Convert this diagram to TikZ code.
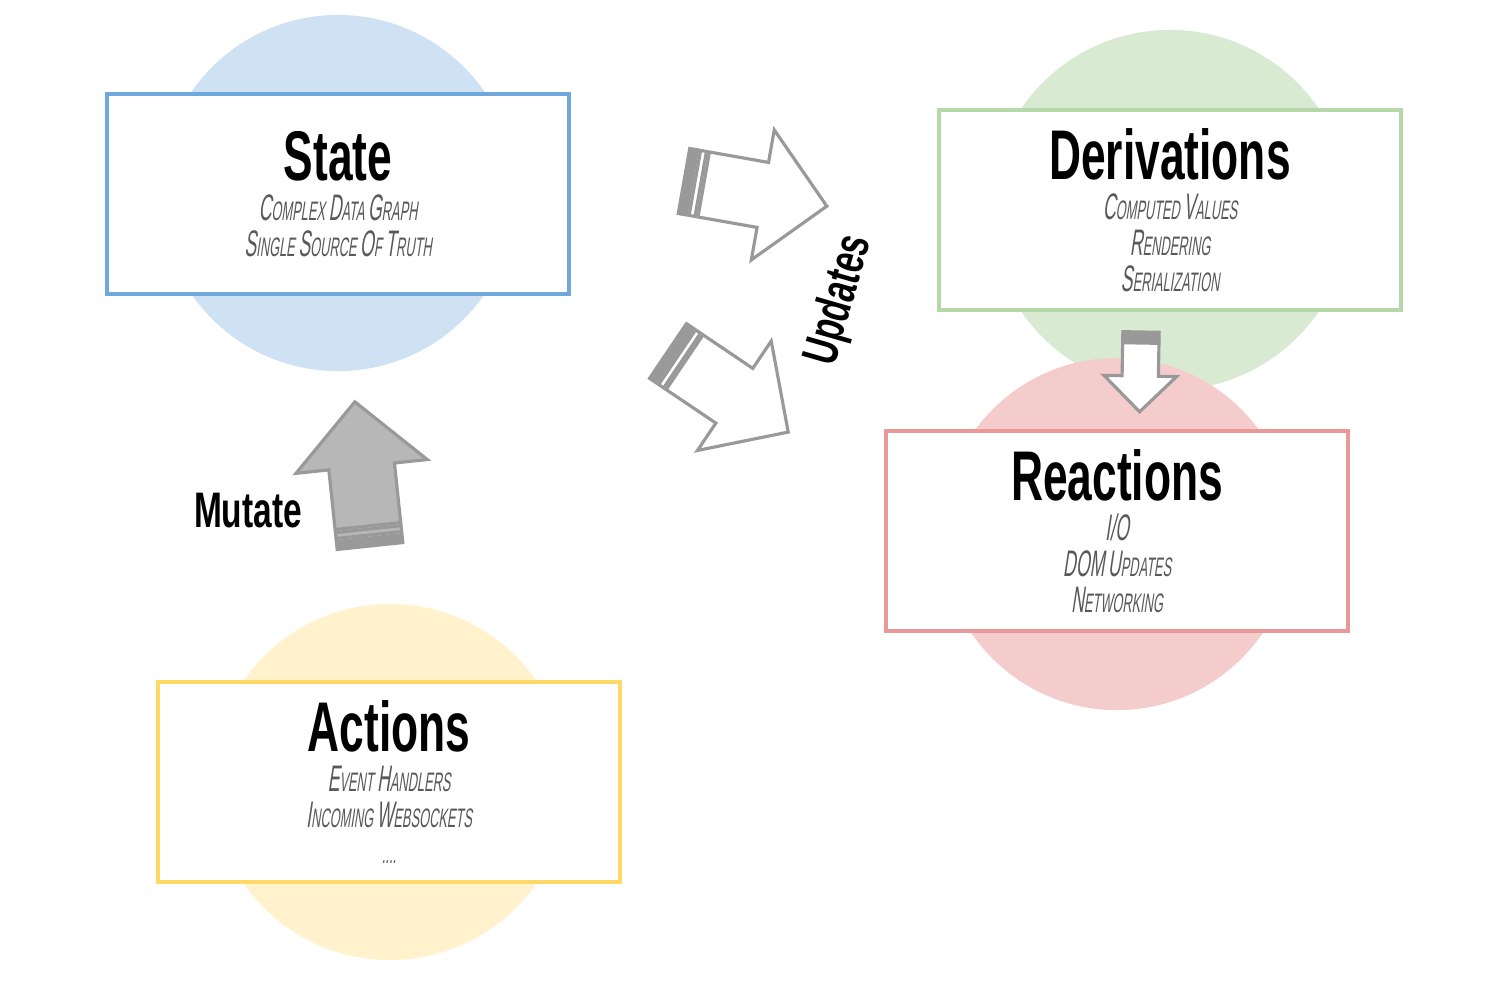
\documentclass[tikz,border=0pt]{standalone}
\usepackage{fontspec}
\newfontfamily\headfont[FakeStretch=0.67]{Liberation Sans Bold}
\newfontfamily\titlefont[FakeStretch=0.63]{Liberation Sans Bold}
\newfontfamily\notefont[FakeStretch=0.48,FakeSlant=0.15]{Liberation Sans}
\newcommand\scw[2]{{\fontsize{10.5}{10.24}\selectfont #1}#2}
\newcommand\headline[1]{{\color{black}\titlefont\fontsize{20}{24}\selectfont #1}}

\definecolor{statefill}{HTML}{CFE2F3}
\definecolor{stateline}{HTML}{6FA8DC}
\definecolor{derivfill}{HTML}{D9EAD3}
\definecolor{derivline}{HTML}{B6D7A8}
\definecolor{reactfill}{HTML}{F4CCCC}
\definecolor{reactline}{HTML}{EA9999}
\definecolor{actfill}{HTML}{FFF2CC}
\definecolor{actline}{HTML}{FFD966}
\definecolor{arrowgray}{HTML}{999999}
\definecolor{arrowfill}{HTML}{B7B7B7}

\tikzstyle{blob}=[circle,inner sep=0,minimum size=3.56cm]
\tikzstyle{box}=[rectangle,draw,line width=1.2pt,fill=white,minimum width=4.62cm,minimum height=2cm,inner sep=0,align=center,
  font=\notefont\fontsize{7.6}{10.24}\selectfont,text=black!65]
\tikzstyle{bigword}=[font=\headfont\fontsize{14.2}{16}\selectfont,inner sep=0]

\tikzset{
  blockarrow/.pic={
    \filldraw[draw=arrowgray,fill=arrowgray,line width=0.9pt] (0,-33) rectangle (8,33);
    \draw[draw=arrowgray,line width=0.9pt,pic actions] (11,-33) rectangle (17,33);
    \draw[draw=arrowgray,line width=0.9pt,line join=miter,pic actions]
      (20,-33) -- (80,-33) -- (80,-66) -- (145,0) -- (80,66) -- (80,33) -- (20,33) -- cycle;
  }
}

\begin{document}
\begin{tikzpicture}[x=0.01cm,y=-0.01cm]
  \useasboundingbox (0,0) rectangle (1488,981);

  \node[blob,fill=statefill] (statec) at (338,193) {};
  \node[blob,fill=derivfill,minimum size=3.6cm] (derivc) at (1170,210) {};
  \node[blob,fill=reactfill,minimum size=3.52cm] (reactc) at (1117,534) {};
  \node[blob,fill=actfill] (actc) at (390,782) {};

  \node[box,draw=stateline] (state) at (338,194) {\headline{State}\\[1.2pt]
    \scw{C}{OMPLEX} \scw{D}{ATA} \scw{G}{RAPH}\\
    \scw{S}{INGLE} \scw{S}{OURCE} \scw{O}{F} \scw{T}{RUTH}};
  \node[box,draw=derivline] (deriv) at (1170,210) {\headline{Derivations}\\[1.2pt]
    \scw{C}{OMPUTED} \scw{V}{ALUES}\\
    \scw{R}{ENDERING}\\
    \scw{S}{ERIALIZATION}};
  \node[box,draw=reactline] (react) at (1117,531) {\headline{Reactions}\\[1.2pt]
    \scw{I/O}{}\\
    \scw{DOM}{} \scw{U}{PDATES}\\
    \scw{N}{ETWORKING}};
  \node[box,draw=actline] (act) at (389,782) {\headline{Actions}\\[1.2pt]
    \scw{E}{VENT} \scw{H}{ANDLERS}\\
    \scw{I}{NCOMING} \scw{W}{EBSOCKETS}\\
    ....};

  \pic[fill=white,rotate=-10] (updone) at (684,181) {blockarrow};
  \pic[fill=white,rotate=-34] (updtwo) at (668,351) {blockarrow};
  \pic[fill=arrowfill,rotate=96] (mut) at (370,546) {blockarrow};
  \pic[fill=white,rotate=-91,scale=0.55] (flow) at (1141,332) {blockarrow};

  \node[bigword] (mutate) at (248,511) {Mutate};
  \node[bigword,rotate=74] (updates) at (840,300) {Updates};
\end{tikzpicture}
\end{document}
